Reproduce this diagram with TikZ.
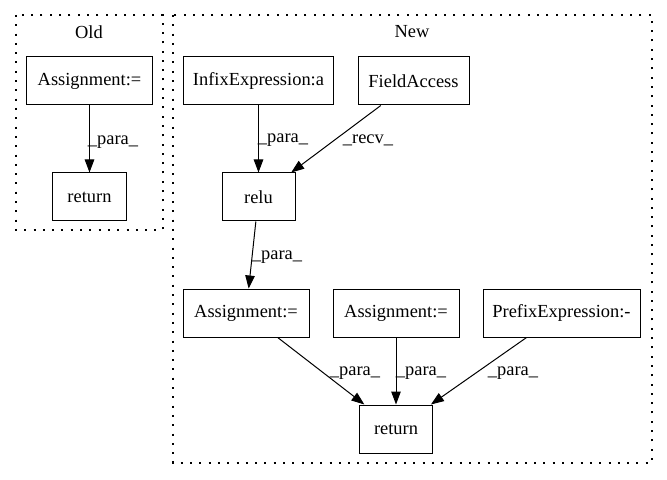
\documentclass[tikz,border=0pt]{standalone}
\usepackage{fontspec}
\setmainfont{Liberation Serif}
\usetikzlibrary{arrows.meta}
\begin{document}
\begin{tikzpicture}[x=1bp,y=-1bp,
  every node/.style={font=\fontsize{18.5}{22}\selectfont},
  box/.style={draw, line width=1bp, rectangle, inner sep=0pt, minimum height=48bp},
  cluster/.style={draw, line width=1.2bp, dash pattern=on 2bp off 7.3bp},
  edge/.style={draw, line width=1bp, -{Triangle[length=13bp,width=9.5bp]}},
  lbl/.style={inner sep=0pt}
]
\useasboundingbox (0,0) rectangle (667,480);
% clusters
\draw[cluster] (16,15) rectangle (163,230);
\draw[cluster] (173,15) rectangle (652,463);
\node[lbl] (oldlbl) at (89,32) {Old};
\node[lbl] (newlbl) at (412,32) {New};
% Old nodes
\node[box, minimum width=125bp] (oa) at (89.5,81) {Assignment:=};
\node[box, minimum width=74bp] (or) at (89.5,197) {return};
% New nodes
\node[box, minimum width=150bp] (inf) at (258.5,81) {InfixExpression:a};
\node[box, minimum width=111bp] (fa) at (413.5,81) {FieldAccess};
\node[box, minimum width=73bp] (relu) at (258.5,197) {relu};
\node[box, minimum width=126bp] (a1) at (246,313) {Assignment:=};
\node[box, minimum width=126bp] (a2) at (396,313) {Assignment:=};
\node[box, minimum width=157bp] (pre) at (561.5,313) {PrefixExpression:-};
\node[box, minimum width=73bp] (nr) at (396,429) {return};
% edges
\draw[edge] (oa) -- (or);
\draw[edge] (inf) -- (relu);
\draw[edge] (fa) -- (relu);
\draw[edge] (relu) -- (a1);
\draw[edge] (a1) -- (nr);
\draw[edge] (a2) -- (nr);
\draw[edge] (pre) -- (nr);
% edge labels
\node[lbl] (l1) at (113,142) {\_para\_};
\node[lbl] (l2) at (283,140) {\_para\_};
\node[lbl] (l3) at (368,140) {\_recv\_};
\node[lbl] (l4) at (277,257) {\_para\_};
\node[lbl] (l5) at (355,373) {\_para\_};
\node[lbl] (l6) at (421,373) {\_para\_};
\node[lbl] (l7) at (513,373) {\_para\_};
\end{tikzpicture}
\end{document}
